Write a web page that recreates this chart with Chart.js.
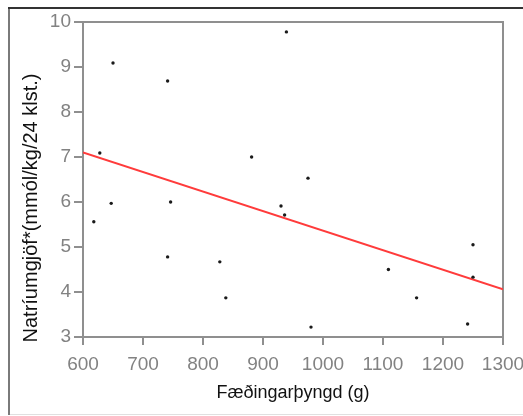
<!DOCTYPE html>
<html>
<head>
<meta charset="utf-8">
<script src="https://cdn.jsdelivr.net/npm/chart.js@4.4.0/dist/chart.umd.min.js"></script>
<style>
  body { margin: 0; background: #fff; }
  #wrap { width: 523px; height: 416px; }
</style>
</head>
<body>
<div id="wrap"><canvas id="sodiumChart" width="523" height="416"></canvas></div>
<script>
// birth weight (g) and sodium intake per infant
const birthWeights = [618, 628, 650, 647, 741, 746, 741, 828, 838, 881, 939, 975, 930, 936, 980, 1109, 1156, 1241, 1250, 1250];
const sodiumValues = [5.56, 7.09, 9.09, 5.97, 8.69, 6.0, 4.78, 4.67, 3.87, 7.0, 9.78, 6.53, 5.91, 5.71, 3.22, 4.5, 3.87, 3.29, 5.05, 4.33];

// regression line end points
const trendWeights = [600, 1300];
const trendSodium = [7.1, 4.06];

const xRange = [600, 1300];
const yRange = [3, 10];

const xTitle = 'Fæðingarþyngd (g)';
const yTitle = 'Natríumgjöf*(mmól/kg/24 klst.)';

const tickFont = { family: 'Liberation Sans', size: 19 };
const tickColor = '#828282';
const axisColor = '#8f8f8f';

function toPoints(xs, ys) {
  return xs.map((x, i) => ({ x: x, y: ys[i] }));
}

// outer frame of the figure
const framePlugin = {
  id: 'frame',
  beforeDraw(chart) {
    const ctx = chart.ctx;
    ctx.save();
    ctx.fillStyle = '#fff';
    ctx.fillRect(0, 0, chart.width, chart.height);
    ctx.strokeStyle = '#e0e0e0';
    ctx.lineWidth = 1;
    ctx.beginPath();
    ctx.moveTo(9, 414.5);
    ctx.lineTo(chart.width, 414.5);
    ctx.stroke();
    ctx.strokeStyle = '#7a7a7a';
    ctx.lineWidth = 2;
    ctx.beginPath();
    ctx.moveTo(9, 8);
    ctx.lineTo(9, 415);
    ctx.stroke();
    ctx.strokeStyle = '#333';
    ctx.beginPath();
    ctx.moveTo(8, 8);
    ctx.lineTo(chart.width, 8);
    ctx.stroke();
    ctx.restore();
  }
};

const ctx = document.getElementById('sodiumChart').getContext('2d');
new Chart(ctx, {
  type: 'scatter',
  data: {
    datasets: [{
      label: 'Mælingar',
      data: toPoints(birthWeights, sodiumValues),
      backgroundColor: '#1a1a1a',
      borderColor: '#1a1a1a',
      pointRadius: 1.7,
      pointHoverRadius: 1.7,
      borderWidth: 0
    }, {
      label: 'Aðhvarfslína',
      data: toPoints(trendWeights, trendSodium),
      showLine: true,
      borderColor: '#ff3b3b',
      borderWidth: 2,
      pointRadius: 0
    }]
  },
  options: {
    responsive: false,
    animation: false,
    devicePixelRatio: 1,
    layout: { padding: 0 },
    plugins: {
      legend: { display: false },
      tooltip: { enabled: false },
      title: {
        display: true,
        position: 'left',
        text: yTitle,
        color: '#111',
        font: { family: 'Liberation Sans', size: 20, weight: 'normal' },
        padding: { top: 19, bottom: 0 }
      }
    },
    scales: {
      x: {
        type: 'linear',
        position: 'bottom',
        min: xRange[0],
        max: xRange[1],
        afterFit: (scale) => {
          scale.height = 79;
          scale.paddingRight = 20;
        },
        ticks: { stepSize: 100, color: tickColor, font: tickFont, padding: 8, maxRotation: 0, callback: (v) => String(v) },
        grid: { drawOnChartArea: false, drawTicks: true, tickLength: 8, color: axisColor, lineWidth: 2 },
        border: { display: true, color: axisColor, width: 2 },
        title: {
          display: true,
          text: xTitle,
          color: '#111',
          font: { family: 'Liberation Sans', size: 18 },
          padding: { top: 0, bottom: 12 }
        }
      },
      y: {
        type: 'linear',
        position: 'left',
        min: yRange[0],
        max: yRange[1],
        afterFit: (scale) => { scale.width = 40; },
        ticks: { stepSize: 1, color: tickColor, font: tickFont, padding: 3 },
        grid: { drawOnChartArea: false, drawTicks: true, tickLength: 9, color: axisColor, lineWidth: 2 },
        border: { display: true, color: axisColor, width: 2 }
      },
      xTop: {
        type: 'linear',
        position: 'top',
        min: xRange[0],
        max: xRange[1],
        afterFit: (scale) => { scale.height = 22; },
        ticks: { display: false },
        grid: { display: false, drawTicks: false },
        border: { display: true, color: axisColor, width: 2 }
      },
      yRight: {
        type: 'linear',
        position: 'right',
        min: yRange[0],
        max: yRange[1],
        afterFit: (scale) => { scale.width = 20; },
        ticks: { display: false },
        grid: { display: false, drawTicks: false },
        border: { display: true, color: axisColor, width: 2 }
      }
    }
  },
  plugins: [framePlugin]
});
</script>
</body>
</html>
